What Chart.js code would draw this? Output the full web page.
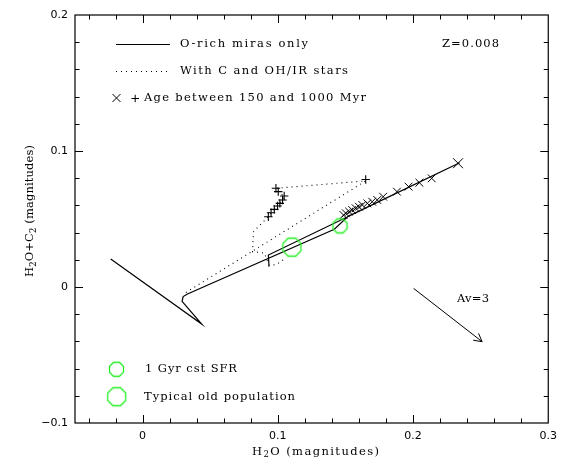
<!DOCTYPE html>
<html><head><meta charset="utf-8">
<script src="https://cdn.jsdelivr.net/npm/chart.js@4.4.1/dist/chart.umd.min.js"></script>
<style>html,body{margin:0;padding:0;background:#fff;}#wrap{width:564px;height:463px;}</style>
</head><body><div id="wrap"><canvas id="c" width="564" height="463"></canvas></div>
<script>
// ---- tick labels ----
const xTicks = [0, 0.1, 0.2, 0.3];
const yTicks = [-0.1, 0, 0.1, 0.2];
const minorStep = 0.02;

// ---- O-rich miras only (solid track) ----
const solidX = [-0.0236, 0.0437, 0.0292, 0.0300, 0.0332, 0.1418, 0.1520, 0.2345, 0.0930, 0.0935];
const solidY = [ 0.0206, -0.0272, -0.0105, -0.0070, -0.0051, 0.0425, 0.0520, 0.0914, 0.0235, 0.0150];

// ---- With C and OH/IR stars (dotted track) ----
const dotX = [0.032, 0.165, 0.0986, 0.1003, 0.1047, 0.1035, 0.1015, 0.0998, 0.0974, 0.0950, 0.0930, 0.0869, 0.0820, 0.0813, 0.0900, 0.0935, 0.0990, 0.1060];
const dotY = [-0.004, 0.078, 0.0726, 0.0701, 0.0669, 0.0640, 0.0615, 0.0596, 0.0571, 0.0546, 0.0517, 0.0456, 0.0407, 0.0260, 0.0250, 0.0160, 0.0165, 0.0215];

// ---- Age between 150 and 1000 Myr: x markers (solid) ----
const xMarkX = [0.2333, 0.2138, 0.2047, 0.1967, 0.1881, 0.1779, 0.1735, 0.1698, 0.1662, 0.1625, 0.1600, 0.1576, 0.1550, 0.1528, 0.1503, 0.1486];
const xMarkY = [0.0910, 0.0799, 0.0767, 0.0738, 0.0701, 0.0664, 0.0640, 0.0627, 0.0615, 0.0603, 0.0590, 0.0579, 0.0566, 0.0554, 0.0542, 0.0529];

// ---- Age between 150 and 1000 Myr: + markers (dotted) ----
const plusX = [0.1650, 0.0986, 0.1003, 0.1047, 0.1035, 0.1015, 0.0998, 0.0974, 0.0950, 0.0930];
const plusY = [0.0790, 0.0726, 0.0701, 0.0669, 0.0640, 0.0615, 0.0596, 0.0571, 0.0546, 0.0517];

// ---- green octagons ----
const sfrX = [0.1460], sfrY = [0.0449];          // 1 Gyr cst SFR
const oldX = [0.1104], oldY = [0.0293];          // Typical old population

// ---- reddening vector Av=3 ----
const arrowX = [0.2004, 0.2511];
const arrowY = [-0.0010, -0.0402];

const pts = (xs, ys) => xs.map((x, i) => ({x, y: ys[i]}));
const GREEN = '#22ee22';

function octagon(d, color, lw) {
  const s = Math.ceil(d + lw * 2 + 4);
  const c = document.createElement('canvas'); c.width = s; c.height = s;
  const g = c.getContext('2d'); const cx = s / 2, cy = s / 2;
  const R = (d / 2) / Math.cos(Math.PI / 8);
  g.beginPath();
  for (let k = 0; k < 8; k++) {
    const a = Math.PI / 8 + k * Math.PI / 4;
    const px = cx + R * Math.cos(a), py = cy + R * Math.sin(a);
    k ? g.lineTo(px, py) : g.moveTo(px, py);
  }
  g.closePath(); g.strokeStyle = color; g.lineWidth = lw; g.stroke();
  return c;
}
const octSmall = octagon(14, GREEN, 1.3);
const octLarge = octagon(18, GREEN, 1.3);

const SERIF = '"DejaVu Serif", "Liberation Serif", serif';

function segWidth(ctx, segs, mainFont, subFont) {
  let w = 0, n = 0;
  for (const [t, sub] of segs) { ctx.font = sub ? subFont : mainFont; w += ctx.measureText(t).width; n += t.length; }
  return [w, n];
}
function drawSegs(ctx, segs, x, y, targetW, mainPx, subPx, subOff) {
  const mainFont = mainPx + 'px ' + SERIF, subFont = subPx + 'px ' + SERIF;
  ctx.letterSpacing = '0px';
  const [m, n] = segWidth(ctx, segs, mainFont, subFont);
  const ls = (targetW - m) / Math.max(1, n - 1);
  ctx.textAlign = 'left'; ctx.textBaseline = 'middle'; ctx.fillStyle = '#000';
  let cx = x;
  for (const [t, sub] of segs) {
    ctx.font = sub ? subFont : mainFont;
    ctx.letterSpacing = ls + 'px';
    ctx.fillText(t, cx, y + (sub ? subOff : 0));
    cx += ctx.measureText(t).width;
  }
  ctx.letterSpacing = '0px';
}
function fitText(ctx, t, x, y, w, px) { drawSegs(ctx, [[t, 0]], x, y, w, px, px, 0); }

const deco = {
  id: 'deco',
  afterDraw(chart) {
    const ctx = chart.ctx, a = chart.chartArea, xs = chart.scales.x, ys = chart.scales.y;
    ctx.save();
    ctx.strokeStyle = '#000'; ctx.lineWidth = 1.2;
    ctx.strokeRect(a.left, a.top, a.right - a.left, a.bottom - a.top);
    // ticks, inward, all four sides
    ctx.lineWidth = 1;
    const isMajor = v => Math.abs(v * 10 - Math.round(v * 10)) < 1e-6;
    ctx.beginPath();
    for (let v = xs.min; v <= xs.max + 1e-9; v += minorStep / 2) {
      const vv = Math.round(v / minorStep) * minorStep;
      if (Math.abs(vv - v) > 1e-9) continue;
      if (vv <= xs.min + 1e-9 || vv >= xs.max - 1e-9) continue;
      const p = Math.round(xs.getPixelForValue(vv)) + 0.5, L = isMajor(vv) ? 8 : 4.5;
      ctx.moveTo(p, a.bottom); ctx.lineTo(p, a.bottom - L);
      ctx.moveTo(p, a.top); ctx.lineTo(p, a.top + L);
    }
    for (let v = ys.min + minorStep; v < ys.max - 1e-9; v += minorStep) {
      const vv = Math.round(v / minorStep) * minorStep;
      const p = Math.round(ys.getPixelForValue(vv)) + 0.5, L = isMajor(vv) ? 8 : 4.5;
      ctx.moveTo(a.left, p); ctx.lineTo(a.left + L, p);
      ctx.moveTo(a.right, p); ctx.lineTo(a.right - L, p);
    }
    ctx.stroke();

    // arrowhead on reddening vector
    const x0 = xs.getPixelForValue(arrowX[0]), y0 = ys.getPixelForValue(arrowY[0]);
    const x1 = xs.getPixelForValue(arrowX[1]), y1 = ys.getPixelForValue(arrowY[1]);
    const ang = Math.atan2(y0 - y1, x0 - x1), hl = 9, ha = 0.5;
    ctx.beginPath();
    ctx.moveTo(x1 + hl * Math.cos(ang + ha), y1 + hl * Math.sin(ang + ha)); ctx.lineTo(x1, y1);
    ctx.lineTo(x1 + hl * Math.cos(ang - ha), y1 + hl * Math.sin(ang - ha));
    ctx.stroke();

    // legend
    ctx.lineWidth = 1.1;
    ctx.beginPath(); ctx.moveTo(116, 44.5); ctx.lineTo(170, 44.5); ctx.stroke();
    ctx.setLineDash([1, 4]);
    ctx.beginPath(); ctx.moveTo(116, 71.5); ctx.lineTo(170, 71.5); ctx.stroke();
    ctx.setLineDash([]);
    ctx.lineWidth = 1;
    ctx.beginPath();
    ctx.moveTo(112.5, 94); ctx.lineTo(120.5, 102); ctx.moveTo(120.5, 94); ctx.lineTo(112.5, 102);
    ctx.moveTo(131.5, 98.5); ctx.lineTo(139, 98.5); ctx.moveTo(135.2, 94.8); ctx.lineTo(135.2, 102.2);
    ctx.stroke();
    ctx.drawImage(octSmall, 116.5 - octSmall.width / 2, 369.3 - octSmall.height / 2);
    ctx.drawImage(octLarge, 116.7 - octLarge.width / 2, 396.7 - octLarge.height / 2);

    fitText(ctx, 'O-rich miras only', 180, 44, 128, 11.5);
    fitText(ctx, 'With C and OH/IR stars', 180, 71.5, 168, 11.5);
    fitText(ctx, 'Age between 150 and 1000 Myr', 144, 98, 222, 11.5);
    fitText(ctx, 'Z=0.008', 442, 44, 57, 11.5);
    fitText(ctx, '1 Gyr cst SFR', 145, 369.5, 92, 11.5);
    fitText(ctx, 'Typical old population', 144, 397, 151, 11.5);
    fitText(ctx, 'Av=3', 457, 299.5, 32, 11.5);

    // axis titles
    drawSegs(ctx, [['H', 0], ['2', 1], ['O (magnitudes)', 0]], 252, 452, 127, 11.5, 8.5, 3);
    ctx.save();
    ctx.translate(30.5, 277); ctx.rotate(-Math.PI / 2);
    drawSegs(ctx, [['H', 0], ['2', 1], ['O+C', 0], ['2', 1], [' (magnitudes)', 0]], 0, 0, 132, 11.5, 8.5, 3);
    ctx.restore();
    ctx.restore();
  }
};

const tickFont = {family: '"DejaVu Sans", "Liberation Sans", sans-serif', size: 11};
const fmt = v => (v < 0 ? '\u2212' + String(Math.abs(v)) : String(v));

new Chart(document.getElementById('c'), {
  type: 'scatter',
  data: {
    datasets: [
      {label: '1 Gyr cst SFR', data: pts(sfrX, sfrY), pointStyle: octSmall, pointRadius: 5, showLine: false},
      {label: 'Typical old population', data: pts(oldX, oldY), pointStyle: octLarge, pointRadius: 5, showLine: false},
      {label: 'x ages', data: pts(xMarkX, xMarkY), pointStyle: 'crossRot', borderColor: '#000', borderWidth: 1, showLine: false,
       pointRadius: xMarkX.map((_, i) => i === 0 ? 7 : 5.5)},
      {label: '+ ages', data: pts(plusX, plusY), pointStyle: 'cross', pointRadius: 4.2, borderColor: '#000', borderWidth: 1.1, showLine: false},
      {label: 'O-rich miras only', data: pts(solidX, solidY), showLine: true, pointRadius: 0, borderColor: '#000', borderWidth: 1.2, tension: 0, fill: false},
      {label: 'With C and OH/IR stars', data: pts(dotX, dotY), showLine: true, pointRadius: 0, borderColor: '#000', borderWidth: 1.1, borderDash: [1, 4], tension: 0, fill: false},
      {label: 'Av=3', data: pts(arrowX, arrowY), showLine: true, pointRadius: 0, borderColor: '#000', borderWidth: 1, tension: 0, fill: false}
    ]
  },
  options: {
    responsive: false, animation: false, events: [],
    layout: {padding: {top: 15, right: 11, left: 0, bottom: 0}},
    plugins: {legend: {display: false}, tooltip: {enabled: false}},
    scales: {
      x: {
        type: 'linear', min: -0.05, max: 0.3,
        grid: {display: false, drawTicks: false}, border: {display: false},
        ticks: {font: tickFont, color: '#000', padding: 7, maxRotation: 0, autoSkip: false, callback: fmt},
        afterBuildTicks: s => { s.ticks = xTicks.map(v => ({value: v})); },
        afterFit: s => { s.height = 40; }
      },
      y: {
        type: 'linear', min: -0.1, max: 0.2,
        grid: {display: false, drawTicks: false}, border: {display: false},
        ticks: {font: tickFont, color: '#000', padding: 7, autoSkip: false, callback: fmt},
        afterBuildTicks: s => { s.ticks = yTicks.map(v => ({value: v})); },
        afterFit: s => { s.width = 75; }
      }
    }
  },
  plugins: [deco]
});
</script>
</body></html>
